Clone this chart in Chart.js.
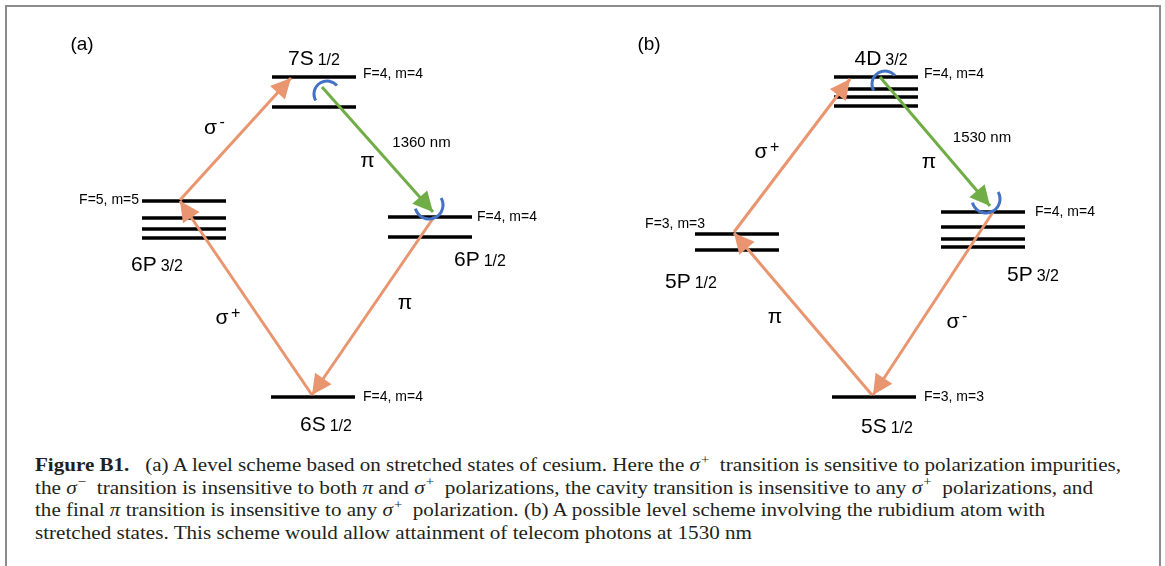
<!DOCTYPE html>
<html>
<head>
<meta charset="utf-8">
<script src="https://cdn.jsdelivr.net/npm/chart.js@4.4.1/dist/chart.umd.min.js"></script>
<style>
  body { margin: 0; background: #fff; width: 1165px; height: 566px; overflow: hidden; position: relative; }
  .frame { position: absolute; left: 5px; top: 5px; width: 1152px; height: 640px; border: 2px solid #8c8c8c; }
  #wrap { position: absolute; left: 0; top: 0; width: 1165px; height: 440px; }
  .caption { position: absolute; left: 35px; top: 454px; font-family: "Liberation Serif", "Times New Roman", serif;
             font-size: 19px; line-height: 22.7px; color: #231f20; }
  .caption div { white-space: nowrap; height: 22.7px; }
  .caption .ln { display: inline-block; transform-origin: 0 50%; }
  .caption sup { font-size: 0.7em; line-height: 0; vertical-align: 0.55em; margin-left: 1px; }
</style>
</head>
<body>
<div class="frame"></div>
<div id="wrap"><canvas id="chart" width="1165" height="440"></canvas></div>

<div class="caption">
  <div><span class="ln"><b>Figure B1.</b>&ensp; (a) A level scheme based on stretched states of cesium. Here the <i>σ</i><sup>+</sup>&nbsp; transition is sensitive to polarization impurities,</span></div>
  <div><span class="ln">the <i>σ</i><sup>−</sup>&nbsp; transition is insensitive to both <i>π</i> and <i>σ</i><sup>+</sup>&nbsp; polarizations, the cavity transition is insensitive to any <i>σ</i><sup>+</sup>&nbsp; polarizations, and</span></div>
  <div><span class="ln">the final <i>π</i> transition is insensitive to any <i>σ</i><sup>+</sup>&nbsp; polarization. (b) A possible level scheme involving the rubidium atom with</span></div>
  <div><span class="ln">stretched states. This scheme would allow attainment of telecom photons at 1530 nm</span></div>
</div>

<script>
// ---- data ----
// energies are in arbitrary units above the ground level, x is the horizontal position of a level

// (a) cesium
const csTerm = ['6S', '6P', '6P', '7S'];
const csJ = ['1/2', '3/2', '1/2', '1/2'];
const csCenter = [313, 184, 430, 314];
const csEnergy = [[0], [196, 179, 168, 159], [180, 160], [320, 290]];
const csState = ['F=4, m=4', 'F=5, m=5', 'F=4, m=4', 'F=4, m=4'];
const csPol = ['σ+', 'σ-', 'π', 'π'];
const csArrowX = [[312, 180], [180, 291], [322, 433], [434, 312]];
const csArrowE = [[2, 196], [197, 319], [310, 185], [180, 2]];
const csCavity = 2;
const csWavelength = '1360 nm';

// (b) rubidium
const rbTerm = ['5S', '5P', '5P', '4D'];
const rbJ = ['1/2', '1/2', '3/2', '3/2'];
const rbCenter = [874, 737, 983, 876];
const rbEnergy = [[0], [163, 147], [185, 170, 158, 150], [320, 308, 300, 291]];
const rbState = ['F=3, m=3', 'F=3, m=3', 'F=4, m=4', 'F=4, m=4'];
const rbPol = ['π', 'σ+', 'π', 'σ-'];
const rbArrowX = [[872, 734], [734, 850], [880, 990], [993, 873]];
const rbArrowE = [[2, 164], [165, 318], [320, 191], [185, 2]];
const rbCavity = 2;
const rbWavelength = '1530 nm';

// ---- style / layout ----
const ORANGE = '#e9956f';
const GREEN = '#70ad47';
const BLUE = '#4472c4';
const HALF = 42; // half width of a level line
const SANS = '"Liberation Sans", Arial, sans-serif';

const panels = [
  { tag: '(a)', tagAt: [82, 45], term: csTerm, j: csJ, center: csCenter, energy: csEnergy, state: csState,
    pol: csPol, ax: csArrowX, ae: csArrowE, cavity: csCavity, wl: csWavelength,
    termLay: [[13, 26, 'below'], [-27, 25, 'below'], [50, 21, 'below'], [0, -20, 'above']],
    stateLay: [['right', 8, -1], ['left', -3, -2], ['right', 5, -1], ['right', 7, -4]],
    polLay: [[-24, 20], [-25, -11], [-10, 12], [32, -3]], wlLay: [44, -8] },
  { tag: '(b)', tagAt: [649, 45], term: rbTerm, j: rbJ, center: rbCenter, energy: rbEnergy, state: rbState,
    pol: rbPol, ax: rbArrowX, ae: rbArrowE, cavity: rbCavity, wl: rbWavelength,
    termLay: [[13, 28, 'below'], [-46, 30, 'below'], [50, 26, 'below'], [5, -20, 'above']],
    stateLay: [['right', 8, -1], ['left', 10, -11], ['right', 10, -1], ['right', 6, -4]],
    polLay: [[-28, 3], [-31, -3], [-6, 21], [20, 19]], wlLay: [47, -5] }
];

const lineBase = { showLine: true, pointRadius: 0, pointHoverRadius: 0, fill: false, tension: 0, borderCapStyle: 'butt' };

const datasets = [];
panels.forEach(p => {
  // transitions on top
  p.pol.forEach((pol, k) => {
    datasets.push(Object.assign({}, lineBase, {
      data: [{ x: p.ax[k][0], y: p.ae[k][0] }, { x: p.ax[k][1], y: p.ae[k][1] }],
      borderColor: k === p.cavity ? GREEN : ORANGE, borderWidth: 3, order: 0
    }));
  });
  // hyperfine levels
  p.center.forEach((cx, i) => {
    p.energy[i].forEach(e => {
      datasets.push(Object.assign({}, lineBase, {
        data: [{ x: cx - HALF, y: e }, { x: cx + HALF, y: e }],
        borderColor: '#000', borderWidth: 3.5, order: 1
      }));
    });
  });
});

function drawHead(c, x0, y0, x1, y1, col) {
  const a = Math.atan2(y1 - y0, x1 - x0);
  const L = 20, W = 10;
  c.fillStyle = col;
  c.beginPath();
  c.moveTo(x1, y1);
  c.lineTo(x1 - L * Math.cos(a) - W * Math.sin(a), y1 - L * Math.sin(a) + W * Math.cos(a));
  c.lineTo(x1 - L * Math.cos(a) + W * Math.sin(a), y1 - L * Math.sin(a) - W * Math.cos(a));
  c.closePath();
  c.fill();
}

function drawPol(c, pol, x, y) {
  c.fillStyle = '#000';
  c.textAlign = 'center';
  c.textBaseline = 'alphabetic';
  c.font = '21px ' + SANS;
  c.fillText(pol[0], x, y + 5.5);
  if (pol.length > 1) {
    c.textAlign = 'left';
    c.font = '16px ' + SANS;
    c.fillText(pol.slice(1), x + 9, y - 6 + (pol[1] === '+' ? 5.6 : 4.8));
  }
}

function drawTerm(c, term, j, cx, cy) {
  c.fillStyle = '#000';
  c.textAlign = 'left';
  c.textBaseline = 'alphabetic';
  c.font = '21px ' + SANS;
  const w1 = c.measureText(term).width;
  c.font = '16px ' + SANS;
  const w2 = c.measureText(j).width;
  const x = cx - (w1 + 4 + w2) / 2;
  c.font = '21px ' + SANS;
  c.fillText(term, x, cy + 7.5);
  c.font = '16px ' + SANS;
  c.fillText(j, x + w1 + 4, cy + 7.5);
}

const diagram = {
  id: 'diagram',
  afterDatasetsDraw(chart) {
    const c = chart.ctx;
    const sx = chart.scales.x, sy = chart.scales.y;
    c.save();
    panels.forEach(p => {
      c.fillStyle = '#000';
      c.font = '19px ' + SANS;
      c.textAlign = 'center';
      c.textBaseline = 'alphabetic';
      c.fillText(p.tag, p.tagAt[0], p.tagAt[1] + 5);

      p.term.forEach((t, i) => {
        const cx = sx.getPixelForValue(p.center[i]);
        const yTop = sy.getPixelForValue(Math.max(...p.energy[i]));
        const yBot = sy.getPixelForValue(Math.min(...p.energy[i]));
        const tl = p.termLay[i];
        drawTerm(c, t, p.j[i], cx + tl[0], (tl[2] === 'above' ? yTop : yBot) + tl[1]);

        const sl = p.stateLay[i];
        c.fillStyle = '#000';
        c.font = '14px ' + SANS;
        c.textBaseline = 'alphabetic';
        if (sl[0] === 'right') {
          c.textAlign = 'left';
          c.fillText(p.state[i], sx.getPixelForValue(p.center[i] + HALF) + sl[1], yTop + sl[2] + 5);
        } else {
          c.textAlign = 'right';
          c.fillText(p.state[i], sx.getPixelForValue(p.center[i] - HALF) + sl[1], yTop + sl[2] + 5);
        }
      });

      p.pol.forEach((pol, k) => {
        const x0 = sx.getPixelForValue(p.ax[k][0]), y0 = sy.getPixelForValue(p.ae[k][0]);
        const x1 = sx.getPixelForValue(p.ax[k][1]), y1 = sy.getPixelForValue(p.ae[k][1]);
        const cav = k === p.cavity;
        drawHead(c, x0, y0, x1, y1, cav ? GREEN : ORANGE);
        const ol = p.polLay[k];
        drawPol(c, pol, (x0 + x1) / 2 + ol[0], (y0 + y1) / 2 + ol[1]);
        if (cav) {
          c.fillStyle = '#000';
          c.font = '15px ' + SANS;
          c.textAlign = 'center';
          c.fillText(p.wl, (x0 + x1) / 2 + p.wlLay[0], (y0 + y1) / 2 + p.wlLay[1] + 5.4);
          // circular polarisation markers at both ends of the cavity photon
          c.strokeStyle = BLUE;
          c.lineWidth = 3;
          c.beginPath();
          c.arc(x0 + 5, y0 + 7, 13, 150 * Math.PI / 180, 320 * Math.PI / 180);
          c.stroke();
          c.beginPath();
          c.arc(x1 - 4, y1 - 7, 14, -30 * Math.PI / 180, 165 * Math.PI / 180);
          c.stroke();
        }
      });
    });
    c.restore();
  }
};

new Chart(document.querySelector('#chart').getContext('2d'), {
  type: 'scatter',
  data: { datasets },
  options: {
    responsive: false,
    devicePixelRatio: 1,
    animation: false,
    events: [],
    layout: { padding: 0 },
    plugins: { legend: { display: false }, tooltip: { enabled: false } },
    scales: {
      x: { type: 'linear', min: 0, max: 1165, display: false },
      y: { type: 'linear', min: -43, max: 397, display: false }
    }
  },
  plugins: [diagram]
});

// caption lines stretched to the widths of the original
const captionWidths = [1086, 1058, 1010, 717];
document.querySelectorAll('.caption .ln').forEach((el, i) => {
  const w = el.getBoundingClientRect().width;
  el.style.transform = 'scaleX(' + (captionWidths[i] / w).toFixed(4) + ')';
});
</script>
</body>
</html>
